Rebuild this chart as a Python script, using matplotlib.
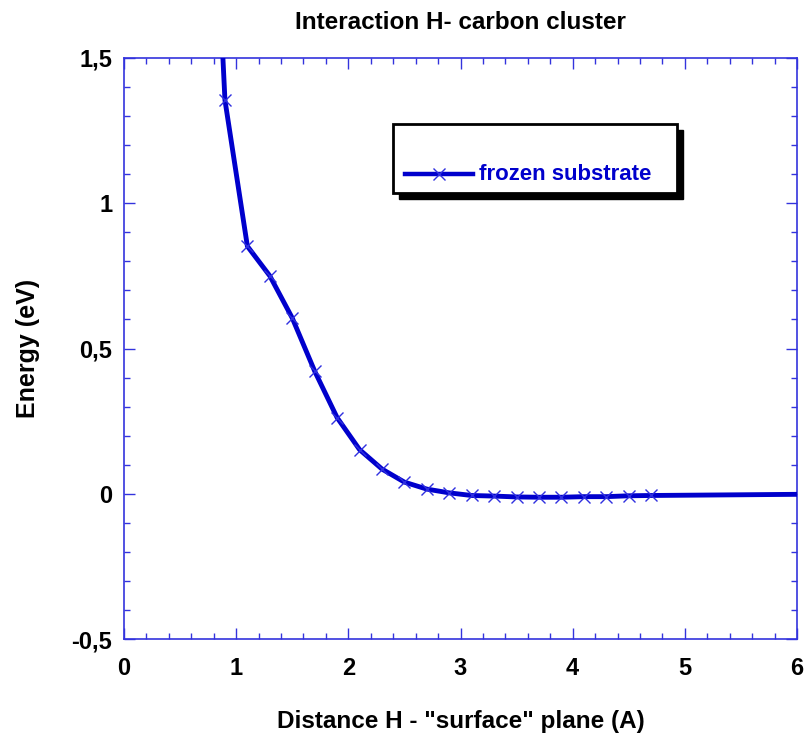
import numpy as np
import matplotlib.pyplot as plt
from matplotlib.ticker import MultipleLocator, FuncFormatter
from matplotlib.patches import Rectangle

plt.rcParams['font.family'] = ['Liberation Sans', 'DejaVu Sans']
plt.rcParams['font.weight'] = 'bold'

# H - surface distance (A) and interaction energy (eV), frozen substrate
distance = [0.7, 0.9, 1.1, 1.3, 1.5, 1.7, 1.9, 2.1, 2.3, 2.5, 2.7, 2.9, 3.1, 3.3,
            3.5, 3.7, 3.9, 4.1, 4.3, 4.5, 4.7, 6.0]
energy = [2.95, 1.355, 0.852, 0.750, 0.605, 0.422, 0.262, 0.152, 0.085, 0.040,
          0.016, 0.003, -0.006, -0.008, -0.011, -0.012, -0.012, -0.010, -0.010,
          -0.007, -0.006, -0.002]
series_name = "frozen substrate"

line_col = '#0000cc'
axis_col = '#3333dd'

fig = plt.figure(figsize=(8.06, 7.39), dpi=100)
ax = fig.add_axes([124/806, 1-639/739, 673/806, 581/739])

ax.plot(distance, energy, color=line_col, lw=3.5, solid_joinstyle='round', zorder=3)
ax.plot(distance[:-1], energy[:-1], ls='none', marker='x', ms=9, mew=1.0,
        color='#3030e0', zorder=4)

ax.set_xlim(0, 6)
ax.set_ylim(-0.5, 1.5)
ax.xaxis.set_major_locator(MultipleLocator(1))
ax.xaxis.set_minor_locator(MultipleLocator(0.2))
ax.yaxis.set_major_locator(MultipleLocator(0.5))
ax.yaxis.set_minor_locator(MultipleLocator(0.1))
ax.yaxis.set_major_formatter(FuncFormatter(lambda v, p: ('%g' % v).replace('.', ',')))

for s in ax.spines.values():
    s.set_color(axis_col)
    s.set_linewidth(1.2)
ax.tick_params(which='both', direction='in', top=True, right=True, color=axis_col,
               labelsize=17, width=1.0)
ax.tick_params(which='major', length=8)
ax.tick_params(which='minor', length=4.5)
ax.tick_params(axis='y', which='major', pad=8.5)
ax.tick_params(axis='x', which='major', pad=13)

ax.set_title("Interaction H- carbon cluster", fontsize=17.5, fontweight='bold', pad=21)
ax.set_xlabel('Distance H - "surface" plane (A)', fontsize=17.5, fontweight='bold', labelpad=21.5)
ax.set_ylabel("Energy (eV)", fontsize=18, fontweight='bold')
ax.yaxis.set_label_coords(-0.125, 0.5)

# legend box with drop shadow
x0, x1 = 269/673, 553/673
y0, y1 = 1-193/581+58/581, 1-124/581+58/581
ox, oy = 6/673, 6/581
ax.add_patch(Rectangle((x0+ox, y0-oy), x1-x0, y1-y0, transform=ax.transAxes,
                       facecolor='black', edgecolor='black', zorder=5, clip_on=False))
ax.add_patch(Rectangle((x0, y0), x1-x0, y1-y0, transform=ax.transAxes,
                       facecolor='white', edgecolor='black', lw=2, zorder=6, clip_on=False))
ly = (639-174)/581
ax.plot([281/673, 349/673], [ly, ly], transform=ax.transAxes, color=line_col, lw=3.2, zorder=7)
ax.plot([315/673], [ly], transform=ax.transAxes, marker='x', ms=9, mew=1.0,
        color='#3030e0', zorder=8)
ax.text(355/673, ly, series_name, transform=ax.transAxes, color=line_col, fontsize=16,
        fontweight='bold', va='center', ha='left', zorder=8)

fig.savefig('out.png', dpi=100)
